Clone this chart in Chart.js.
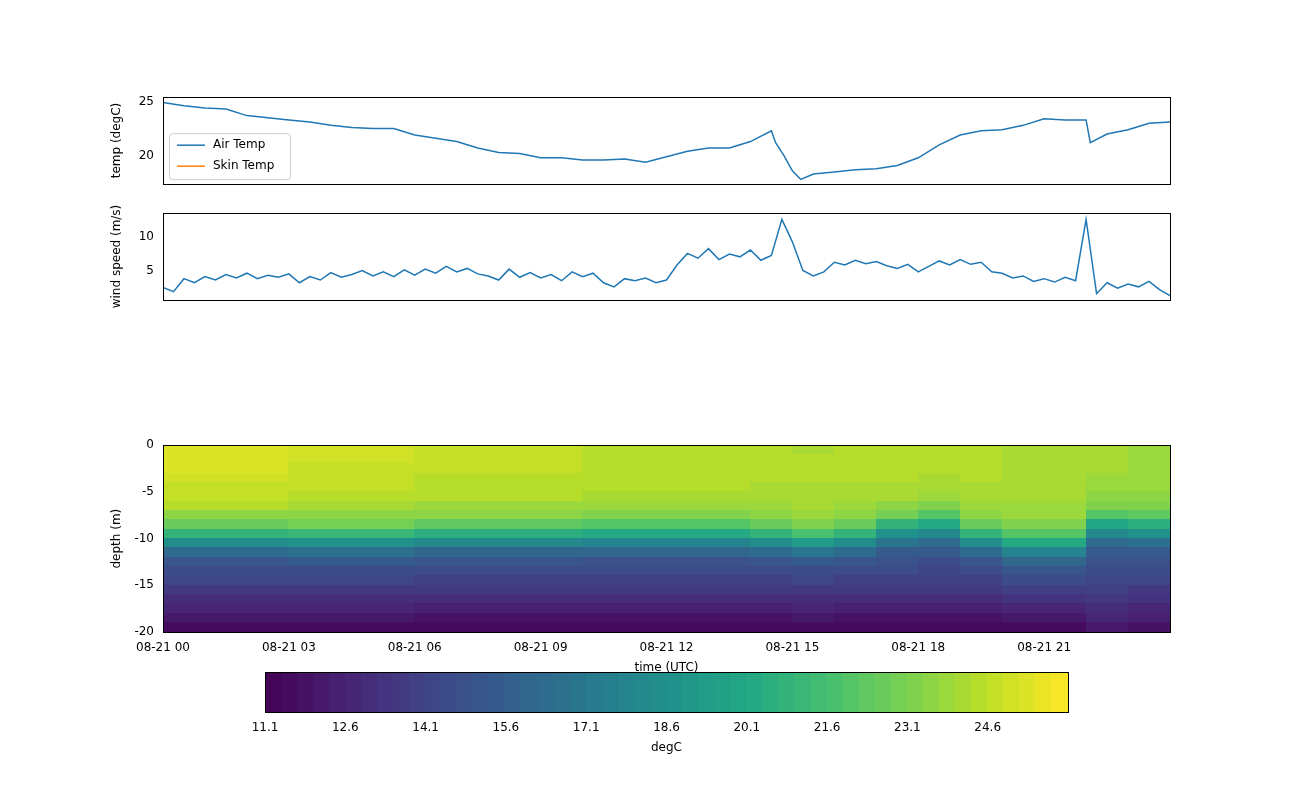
<!DOCTYPE html>
<html><head><meta charset="utf-8">
<script src="https://cdn.jsdelivr.net/npm/chart.js@4"></script>
<style>
body{margin:0;background:#fff;width:1300px;height:800px;position:relative;overflow:hidden}
canvas{position:absolute;left:0}
</style></head><body>
<canvas id="c1" style="top:86px;width:1300px;height:109px"></canvas>
<canvas id="c2" style="top:202px;width:1300px;height:109px"></canvas>
<canvas id="c3" style="top:434px;width:1300px;height:241px"></canvas>
<canvas id="c4" style="top:662px;width:1300px;height:93px"></canvas>
<script>
// ---- data ----
const tempTimes = [0,0.5,1,1.5,2,2.5,3,3.5,4,4.5,5,5.5,6,6.5,7,7.5,8,8.5,9,9.5,10,10.5,11,11.5,12,12.5,13,13.5,14,14.5,14.6,14.8,15,15.2,15.5,16,16.5,17,17.5,18,18.5,19,19.5,20,20.5,21,21.5,22,22.1,22.5,23,23.5,24];
const airTemp = [24.9,24.6,24.4,24.3,23.7,23.5,23.3,23.1,22.8,22.6,22.5,22.5,21.9,21.6,21.3,20.7,20.3,20.2,19.8,19.8,19.6,19.6,19.7,19.4,19.9,20.4,20.7,20.7,21.3,22.3,21.2,20.0,18.6,17.8,18.3,18.5,18.7,18.8,19.1,19.8,21.0,21.9,22.3,22.4,22.8,23.4,23.3,23.3,21.2,22.0,22.4,23.0,23.1];
const skinTemp = [];
const windStep = 0.25; // hours between wind samples
const windSpeed = [2.5,1.9,3.8,3.2,4.1,3.6,4.4,3.9,4.6,3.8,4.3,4.0,4.5,
3.2,4.1,3.6,4.7,4.0,4.4,5.0,4.2,4.8,4.1,5.1,4.3,
5.2,4.6,5.6,4.8,5.3,4.5,4.2,3.6,
5.2,4.0,4.7,3.9,4.4,3.5,4.8,4.1,4.6,3.2,2.6,3.8,
3.5,3.9,3.2,3.6,
5.8,7.5,6.8,8.2,6.6,7.4,7.0,8.0,6.5,7.2,
12.5,9.2,5.0,4.2,4.8,
6.2,5.8,6.5,6.0,6.3,5.7,5.3,5.9,4.8,5.6,6.4,5.8,6.6,5.9,6.2,4.8,4.6,3.9,4.2,3.4,3.8,3.3,4.0,3.5,
12.5,1.6,3.2,2.4,3.0,2.6,3.4,2.2,1.3];
const timeTicks = [0,3,6,9,12,15,18,21];
const timeTickLabels = ['08-21 00','08-21 03','08-21 06','08-21 09','08-21 12','08-21 15','08-21 18','08-21 21'];
const depthEdges = [0,-1,-2,-3,-4,-5,-6,-7,-8,-9,-10,-11,-12,-13,-14,-15,-16,-17,-18,-19,-20];
const profileTimes = [0,1,2,3,4,5,6,7,8,9,10,11,12,13,14,15,16,17,18,19,20,21,22,23,24]; // column edges (h)
const pA=[25.4,25.4,25.3,25.1,24.9,24.6,24.3,23.6,22.6,20.8,18.4,16.3,15.2,14.6,14.2,13.7,13.2,12.6,12.0,11.5];
const pB=[25.0,25.0,24.9,24.8,24.6,24.4,24.2,23.7,22.8,21.2,18.9,16.6,15.3,14.7,14.2,13.7,13.2,12.6,12.0,11.5];
const pC=[24.6,24.6,24.6,24.5,24.4,24.3,24.0,23.5,22.5,20.6,18.2,16.1,15.0,14.5,14.0,13.6,13.1,12.5,11.9,11.5];
const pD=[24.4,24.4,24.4,24.4,24.3,24.2,24.0,23.4,22.2,20.2,17.8,15.9,14.9,14.4,14.0,13.6,13.1,12.5,11.9,11.5];
const pE=[24.3,24.3,24.3,24.3,24.2,24.2,24.0,23.6,22.7,20.9,18.5,16.3,15.1,14.5,14.0,13.6,13.1,12.5,11.9,11.5];
const pF=[24.2,24.3,24.3,24.3,24.2,24.2,24.1,23.8,23.1,21.7,19.5,17.0,15.5,14.7,14.2,13.7,13.2,12.6,12.0,11.5];
const pG=[24.3,24.3,24.3,24.3,24.2,24.1,23.7,22.8,21.0,18.8,16.8,15.4,14.8,14.4,14.0,13.6,13.1,12.5,11.9,11.5];
const pH=[24.3,24.3,24.3,24.2,24.1,23.9,23.3,22.1,20.2,18.2,16.4,15.3,14.7,14.3,13.9,13.5,13.0,12.5,11.9,11.5];
const pJ=[24.2,24.2,24.2,24.2,24.2,24.1,24.0,23.8,23.3,22.2,20.3,17.8,16.0,15.0,14.4,13.9,13.3,12.7,12.1,11.6];
const pK=[24.1,24.1,24.1,24.0,23.9,23.7,23.2,22.0,20.0,18.0,16.4,15.4,14.9,14.6,14.3,14.0,13.6,13.2,12.7,12.2];
const pL=[23.9,23.9,23.9,23.9,23.8,23.7,23.4,22.5,20.7,18.6,16.7,15.5,14.9,14.5,14.1,13.7,13.3,12.8,12.3,11.8];
const profiles=[pA,pA,pA,pB,pB,pB,pC,pC,pC,pC,pD,pD,pD,pD,pE,pF,pE,pG,pH,pE,pJ,pJ,pK,pL];
const cbMin=11.1, cbMax=26.1, cbLevels=50;
const cbTicks=[11.1,12.6,14.1,15.6,17.1,18.6,20.1,21.6,23.1,24.6];

// ---- helpers ----
const FONT='"DejaVu Sans", sans-serif';
Chart.defaults.font.family=FONT; Chart.defaults.font.size=12; Chart.defaults.color='#000';
Chart.defaults.devicePixelRatio=1;
const VIR=[[68,1,84],[72,35,116],[64,67,135],[52,94,141],[41,120,142],[32,144,140],[34,167,132],[68,190,112],[121,209,81],[189,222,38],[253,231,37]];
function viridis(t){t=Math.max(0,Math.min(1,t));const f=t*10,i=Math.min(9,Math.floor(f)),r=f-i;const a=VIR[i],b=VIR[i+1];
 return `rgb(${Math.round(a[0]+(b[0]-a[0])*r)},${Math.round(a[1]+(b[1]-a[1])*r)},${Math.round(a[2]+(b[2]-a[2])*r)})`;}
function colorFor(v){let k=Math.floor((v-cbMin)/(cbMax-cbMin)*cbLevels);k=Math.max(0,Math.min(cbLevels-1,k));return viridis((k+0.5)/cbLevels);}
const boxPlugin={id:'box',afterDraw(c){const a=c.chartArea,x=c.ctx;x.save();x.strokeStyle='#000';x.lineWidth=1;x.strokeRect(Math.round(a.left)+0.5,Math.round(a.top)+0.5,Math.round(a.right-a.left),Math.round(a.bottom-a.top));x.restore();}};
function fitY(w){return s=>{s.width=w;};}
function fitX(h){return s=>{s.height=h;};}
function timeAxis(labels,h,title){return {type:'linear',min:0,max:24,afterFit:fitX(h),
 afterBuildTicks:s=>{s.ticks=timeTicks.map(v=>({value:v}));},
 ticks:{display:labels,autoSkip:false,maxRotation:0,padding:4,callback:(v)=>{const i=timeTicks.indexOf(v);return i>=0?timeTickLabels[i]:'';}},
 grid:{display:false,drawTicks:true,tickLength:5,tickColor:'#000'},border:{display:false},
 title:{display:!!title,text:title||'',padding:{top:0,bottom:0},font:{size:12}}};}
function yAxis(min,max,ticks,title){return {min,max,afterFit:fitY(53),
 afterBuildTicks:s=>{s.ticks=ticks.map(v=>({value:v}));},
 ticks:{padding:4,autoSkip:false},grid:{display:false,drawTicks:true,tickLength:5,tickColor:'#000'},border:{display:false},
 title:{display:true,text:title,padding:{top:0,bottom:4},font:{size:12}}};}

const legendPlugin={id:'lg',afterDraw(c){const a=c.chartArea,x=c.ctx;x.save();
 const L=a.left+6,T=a.top+36,W=121,H=46;
 x.fillStyle='rgba(255,255,255,0.8)';x.strokeStyle='#ccc';x.lineWidth=1;
 x.beginPath();x.roundRect(L+0.5,T+0.5,W,H,3);x.fill();x.stroke();
 const items=[['Air Temp','#1f77b4'],['Skin Temp','#ff7f0e']];
 items.forEach((it,i)=>{const y=T+12+i*21;x.strokeStyle=it[1];x.lineWidth=1.5;x.beginPath();x.moveTo(L+8,y);x.lineTo(L+36,y);x.stroke();
  x.fillStyle='#000';x.font='12px '+FONT;x.textBaseline='middle';x.fillText(it[0],L+44,y);});
 x.restore();}};

new Chart(document.getElementById('c1'),{type:'scatter',
 data:{datasets:[{label:'Air Temp',data:tempTimes.map((t,i)=>({x:t,y:airTemp[i]})),showLine:true,borderColor:'#1f77b4',borderWidth:1.5,pointRadius:0},
  {label:'Skin Temp',data:skinTemp,showLine:true,borderColor:'#ff7f0e',borderWidth:1.5,pointRadius:0}]},
 options:{responsive:false,animation:false,layout:{padding:{left:110,right:130,top:10,bottom:0}},
  plugins:{legend:{display:false},tooltip:{enabled:false}},
  scales:{x:timeAxis(false,10),y:yAxis(17.4,25.4,[20,25],'temp (degC)')}},plugins:[boxPlugin,legendPlugin]});

new Chart(document.getElementById('c2'),{type:'scatter',
 data:{datasets:[{data:windSpeed.map((v,i)=>({x:i*windStep,y:v})),showLine:true,borderColor:'#1f77b4',borderWidth:1.5,pointRadius:0}]},
 options:{responsive:false,animation:false,layout:{padding:{left:110,right:130,top:10,bottom:0}},
  plugins:{legend:{display:false},tooltip:{enabled:false}},
  scales:{x:timeAxis(false,10),y:yAxis(0.7,13.4,[5,10],'wind speed (m/s)')}},plugins:[boxPlugin]});

const heatPlugin={id:'heat',beforeDatasetsDraw(c){const xs=c.scales.x,ys=c.scales.y,x=c.ctx;x.save();
 profiles.forEach((p,j)=>{const x0=xs.getPixelForValue(profileTimes[j]),x1=xs.getPixelForValue(profileTimes[j+1]);
  p.forEach((v,i)=>{const y0=ys.getPixelForValue(depthEdges[i]),y1=ys.getPixelForValue(depthEdges[i+1]);
   x.fillStyle=colorFor(v);x.fillRect(Math.floor(x0),Math.floor(y0),Math.ceil(x1-x0)+1,Math.ceil(y1-y0)+1);});});
 x.restore();}};
new Chart(document.getElementById('c3'),{type:'scatter',data:{datasets:[{data:[]}]},
 options:{responsive:false,animation:false,layout:{padding:{left:110,right:130,top:10,bottom:0}},
  plugins:{legend:{display:false},tooltip:{enabled:false}},
  scales:{x:timeAxis(true,43,'time (UTC)'),y:yAxis(-20,0,[0,-5,-10,-15,-20],'depth (m)')}},plugins:[heatPlugin,boxPlugin]});

const cbPlugin={id:'cb',beforeDatasetsDraw(c){const xs=c.scales.x,a=c.chartArea,x=c.ctx;x.save();
 for(let k=0;k<cbLevels;k++){const v0=cbMin+(cbMax-cbMin)*k/cbLevels,v1=cbMin+(cbMax-cbMin)*(k+1)/cbLevels;
  const p0=xs.getPixelForValue(v0),p1=xs.getPixelForValue(v1);x.fillStyle=viridis((k+0.5)/cbLevels);
  x.fillRect(Math.floor(p0),a.top,Math.ceil(p1-p0)+1,a.bottom-a.top);}
 x.restore();}};
new Chart(document.getElementById('c4'),{type:'scatter',data:{datasets:[{data:[]}]},
 options:{responsive:false,animation:false,layout:{padding:{left:265,right:232,top:10,bottom:0}},
  plugins:{legend:{display:false},tooltip:{enabled:false}},
  scales:{x:{type:'linear',min:cbMin,max:cbMax,afterFit:fitX(43),afterBuildTicks:s=>{s.ticks=cbTicks.map(v=>({value:v}));},
   ticks:{autoSkip:false,maxRotation:0,padding:4,callback:v=>v.toFixed(1)},grid:{display:false,drawTicks:true,tickLength:5,tickColor:'#000'},border:{display:false},
   title:{display:true,text:'degC',padding:{top:0,bottom:0},font:{size:12}}},
   y:{display:false,min:0,max:1}}},plugins:[cbPlugin,boxPlugin]});
</script></body></html>
